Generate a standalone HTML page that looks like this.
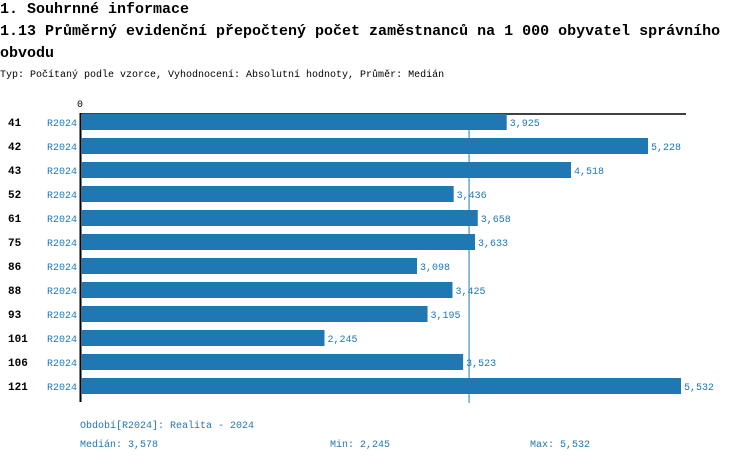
<!DOCTYPE html>
<html><head><meta charset="utf-8"><style>
body{margin:0;background:#fff;width:750px;height:462px;overflow:hidden;font-family:"Liberation Mono",monospace;}
svg text{font-family:"Liberation Mono",monospace;}
</style></head><body>
<svg width="750" height="462" id="c">
<text x="0" y="13" font-size="15" font-weight="bold" fill="#000">1. Souhrnné informace</text>
<text x="0" y="35" font-size="15" font-weight="bold" fill="#000">1.13 Průměrný evidenční přepočtený počet zaměstnanců na 1 000 obyvatel správního</text>
<text x="0" y="57" font-size="15" font-weight="bold" fill="#000">obvodu</text>
<text x="0" y="77" font-size="10" fill="#000">Typ: Počítaný podle vzorce, Vyhodnocení: Absolutní hodnoty, Průměr: Medián</text>
<text x="80" y="107" font-size="10" text-anchor="middle" fill="#000">0</text>
<line x1="80" y1="114" x2="686" y2="114" stroke="#000" stroke-width="1.5"/>
<line x1="80.5" y1="113" x2="80.5" y2="402" stroke="#000" stroke-width="2"/>
<g id="bars"></g>
<text x="80" y="428" font-size="10" fill="#1f77b4">Období[R2024]: Realita - 2024</text>
<text x="80" y="447" font-size="10" fill="#1f77b4">Medián: 3,578</text>
<text x="330" y="447" font-size="10" fill="#1f77b4">Min: 2,245</text>
<text x="530" y="447" font-size="10" fill="#1f77b4">Max: 5,532</text>
</svg>
<script>
const categories=["41","42","43","52","61","75","86","88","93","101","106","121"];
const values=[3925,5228,4518,3436,3658,3633,3098,3425,3195,2245,3523,5532];
const valueLabels=["3,925","5,228","4,518","3,436","3,658","3,633","3,098","3,425","3,195","2,245","3,523","5,532"];
const medianValue=3578;
const NS="http://www.w3.org/2000/svg";
const g=document.getElementById('bars');
const maxV=Math.max(...values);
const x=v=>81+v*600/maxV;
const yc=i=>122+i*24;
function mk(t,a){const e=document.createElementNS(NS,t);for(const k in a)e.setAttribute(k,a[k]);return e;}
const ml=mk('line',{x1:x(medianValue),x2:x(medianValue),y1:115,y2:403,stroke:'#1f77b4','stroke-width':1});


g.appendChild(ml);
categories.forEach((c,i)=>{
 const r=mk('rect',{x:81,y:yc(i)-8,width:x(values[i])-81,height:16,fill:'#1f77b4'});
 
 
 g.appendChild(r);
 const cl=mk('text',{x:8,y:yc(i)+4,'font-size':11,'font-weight':'bold',fill:'#000'});cl.textContent=c;
 
 
 g.appendChild(cl);
 const pl=mk('text',{x:47,y:yc(i)+4,'font-size':10,fill:'#1f77b4'});pl.textContent='R2024';
 
 
 g.appendChild(pl);
 const vl=mk('text',{x:x(values[i])+3,y:yc(i)+4,'font-size':10,fill:'#1f77b4'});vl.textContent=valueLabels[i];
 
 
 g.appendChild(vl);
});
</script>
</body></html>
